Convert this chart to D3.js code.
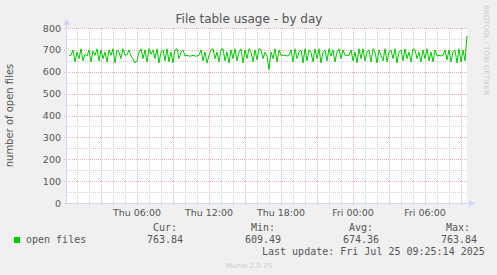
<!DOCTYPE html>
<html>
<head>
<meta charset="utf-8">
<script src="https://cdn.jsdelivr.net/npm/d3@7"></script>
<style>
  body { margin: 0; background: #f0f0f0; }
  svg { display: block; }
  .sans { font-family: "DejaVu Sans", sans-serif; fill: #555; }
  .mono { font-family: "DejaVu Sans Mono", monospace; fill: #555; font-size: 10px; }
</style>
</head>
<body>
<svg id="chart" width="497" height="275"></svg>
<script>
'use strict';
// open files, one sample every 10 minutes, last sample at the right edge
var openFiles = [
    675, 675, 700, 645, 690, 660, 705, 650, 680, 672,
    700, 645, 695, 675, 705, 650, 700, 660, 690, 645,
    700, 675, 705, 640, 700, 690, 660, 705, 675, 678,
    700, 672, 660, 640, 650, 690, 705, 660, 700, 645,
    705, 680, 700, 660, 705, 640, 690, 700, 650, 705,
    645, 690, 640, 700, 705, 660, 690, 700, 672, 675,
    672, 672, 675, 672, 672, 675, 700, 650, 690, 640,
    675, 700, 705, 660, 690, 645, 700, 705, 650, 690,
    640, 700, 660, 705, 650, 690, 705, 640, 700, 660,
    705, 690, 645, 700, 655, 705, 700, 660, 690, 672,
    609, 690, 660, 705, 645, 700, 675, 675, 675, 672,
    675, 700, 645, 705, 660, 690, 700, 640, 705, 650,
    700, 690, 645, 705, 660, 705, 640, 690, 700, 650,
    705, 672, 700, 645, 690, 705, 660, 700, 675, 675,
    675, 700, 650, 690, 640, 705, 660, 705, 650, 690,
    700, 645, 705, 690, 640, 700, 675, 650, 705, 645,
    690, 700, 660, 705, 640, 690, 700, 650, 705, 660,
    690, 645, 705, 700, 660, 690, 645, 700, 660, 705,
    650, 690, 645, 700, 672, 675, 672, 675, 700, 655,
    700, 645, 690, 700, 640, 705, 645, 700, 650, 764
];
var yTicks = [0, 100, 200, 300, 400, 500, 600, 700, 800];
var xLabelTimes = ['2025-07-24T06:00', '2025-07-24T12:00', '2025-07-24T18:00', '2025-07-25T00:00', '2025-07-25T06:00'];
var legendNames = ['open files'];
var legendHeads = ['Cur:', 'Min:', 'Avg:', 'Max:'];
var legendValues = ['763.84', '609.49', '674.36', '763.84'];

var endTime = new Date('2025-07-25T09:30:00');
var step = 10 * 60 * 1000;
var startTime = new Date(endTime.getTime() - 400 * 5 * 60 * 1000);

var svg = d3.select('#chart'),
        margin = {left: 67, top: 28, right: 30, bottom: 72},
width = 400,
        height = 175;

var x = d3.scaleTime().domain([startTime, endTime]).range([margin.left, margin.left + width]);
var y = d3.scaleLinear().domain([0, 800]).range([margin.top + height, margin.top]);

var series = openFiles.map(function (v, i) {
    return {t: new Date(endTime.getTime() - (openFiles.length - 1 - i) * step), v: v};
});

// canvas
svg.append('rect')
        .attr('x', margin.left).attr('y', margin.top)
        .attr('width', width).attr('height', height)
        .attr('fill', '#fff');

var minorColor = '#d2d2d2',
        majorColor = '#f2b0b0';
// minor grid
var g = svg.append('g').attr('shape-rendering', 'crispEdges');
d3.range(50, 800, 100).forEach(function (v) {
    g.append('line')
            .attr('x1', margin.left).attr('x2', margin.left + width)
            .attr('y1', Math.round(y(v)) + 0.5).attr('y2', Math.round(y(v)) + 0.5)
            .attr('stroke', minorColor).attr('stroke-dasharray', '1,1');
});
d3.timeHour.range(startTime, endTime).forEach(function (t) {
    if (t.getHours() % 3 === 0) return;
    var px = Math.round(x(t)) + 0.5;
    g.append('line')
            .attr('x1', px).attr('x2', px)
            .attr('y1', margin.top).attr('y2', margin.top + height + 2)
            .attr('stroke', minorColor).attr('stroke-dasharray', '1,1');
});
// major grid
yTicks.forEach(function (v) {
    g.append('line')
            .attr('x1', margin.left - 3).attr('x2', margin.left + width)
            .attr('y1', Math.round(y(v)) + 0.5).attr('y2', Math.round(y(v)) + 0.5)
            .attr('stroke', majorColor).attr('stroke-dasharray', '1,1');
});
d3.timeHour.every(3).range(startTime, endTime).forEach(function (t) {
    var px = Math.round(x(t)) + 0.5;
    g.append('line')
            .attr('x1', px).attr('x2', px)
            .attr('y1', margin.top).attr('y2', margin.top + height + 3)
            .attr('stroke', majorColor).attr('stroke-dasharray', '1,1');
});

// axes (light blue with arrows)
var axisColor = '#cfd6f8';
g.append('line')
        .attr('x1', margin.left - 0.5).attr('x2', margin.left - 0.5)
        .attr('y1', margin.top - 3).attr('y2', margin.top + height + 1)
        .attr('stroke', axisColor);
g.append('line')
        .attr('x1', margin.left - 3).attr('x2', margin.left + width + 2)
        .attr('y1', margin.top + height + 0.5).attr('y2', margin.top + height + 0.5)
        .attr('stroke', axisColor);
svg.append('path')
        .attr('d', d3.line()([[margin.left - 4, margin.top - 3], [margin.left + 3, margin.top - 3], [margin.left - 0.5, margin.top - 9]]))
        .attr('fill', axisColor);
svg.append('path')
        .attr('d', d3.line()([[margin.left + width + 2, margin.top + height - 3], [margin.left + width + 2, margin.top + height + 4], [margin.left + width + 8, margin.top + height + 0.5]]))
        .attr('fill', axisColor);

// data line
svg.append('path')
        .datum(series)
        .attr('fill', 'none')
        .attr('stroke', '#00cc00')
        .attr('stroke-width', 1)
        .attr('d', d3.line().x(function (d) { return x(d.t); }).y(function (d) { return y(d.v); }));

// tick labels
svg.selectAll('.ylab').data(yTicks).enter().append('text')
        .attr('class', 'sans ylab')
        .attr('x', margin.left - 6)
        .attr('y', function (d) { return y(d) + 3.5; })
        .attr('text-anchor', 'end')
        .attr('font-size', '9.5px')
        .text(function (d) { return d; });
var fmt = d3.timeFormat('%a %H:%M');
svg.selectAll('.xlab').data(xLabelTimes).enter().append('text')
        .attr('class', 'sans xlab')
        .attr('x', function (d) { return x(new Date(d)); })
        .attr('y', 216)
        .attr('text-anchor', 'middle')
        .attr('font-size', '9.5px')
        .text(function (d) { return fmt(new Date(d)); });

// titles
svg.append('text').attr('class', 'sans')
        .attr('x', 249).attr('y', 23)
        .attr('text-anchor', 'middle')
        .attr('font-size', '12px')
        .text('File table usage - by day');
svg.append('text').attr('class', 'sans')
        .attr('transform', 'translate(13,' + (margin.top + height / 2) + ') rotate(-90)')
        .attr('text-anchor', 'middle')
        .attr('font-size', '10px')
        .text('number of open files');
svg.append('text')
        .attr('transform', 'translate(484,5) rotate(90)')
        .attr('font-family', '"DejaVu Sans", sans-serif')
        .attr('font-size', '7px')
        .attr('fill', '#cccccc')
        .text('RRDTOOL / TOBI OETIKER');

// legend
svg.append('rect')
        .attr('x', 14).attr('y', 237)
        .attr('width', 6).attr('height', 6)
        .attr('fill', '#00cc00');
svg.selectAll('.lname').data(legendNames).enter().append('text')
        .attr('class', 'mono lname')
        .attr('x', 26).attr('y', 243)
        .text(function (d) { return d; });
var headRight = [177, 275, 373, 470];
var valueRight = [183, 281, 379, 477];
svg.selectAll('.lhead').data(legendHeads).enter().append('text')
        .attr('class', 'mono lhead')
        .attr('x', function (d, i) { return headRight[i]; })
        .attr('y', 231)
        .attr('text-anchor', 'end')
        .text(function (d) { return d; });
svg.selectAll('.lval').data(legendValues).enter().append('text')
        .attr('class', 'mono lval')
        .attr('x', function (d, i) { return valueRight[i]; })
        .attr('y', 243)
        .attr('text-anchor', 'end')
        .text(function (d) { return d; });
svg.append('text').attr('class', 'mono')
        .attr('x', 262).attr('y', 254.5)
        .text('Last update: Fri Jul 25 09:25:14 2025');
svg.append('text')
        .attr('x', 249).attr('y', 268)
        .attr('text-anchor', 'middle')
        .attr('font-family', '"DejaVu Sans", sans-serif')
        .attr('font-size', '7px')
        .attr('fill', '#cccccc')
        .text('Munin 2.0.75');
</script>
</body>
</html>
